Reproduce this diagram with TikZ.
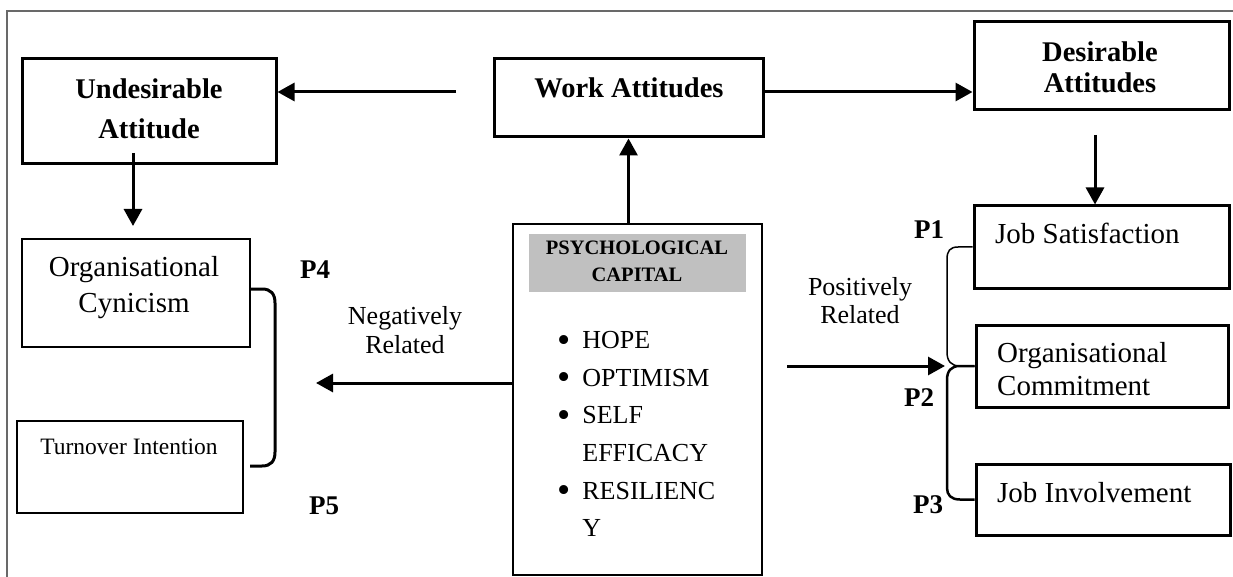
\documentclass[tikz,border=0pt]{standalone}
\usepackage{fontspec}
\usepackage{graphicx}
\setmainfont{Liberation Serif}
\usetikzlibrary{arrows.meta}
\definecolor{capgray}{RGB}{192,192,192}
\definecolor{framegray}{RGB}{105,105,105}

\newcommand{\bigdot}{\raisebox{-3.4pt}{\scalebox{1.45}{\textbullet}}}

\tikzset{
  boxthick/.style={draw, line width=3pt, inner sep=0pt},
  boxthin/.style={draw, line width=2pt, inner sep=0pt},
  flow/.style={line width=3pt, -{Triangle[length=17pt,width=18pt]}},
  bracethick/.style={line width=3pt, line join=round},
  bracethin/.style={line width=1.5pt, line join=round},
  boldtxt/.style={inner sep=0pt, align=center, font=\fontsize{28.5}{40}\selectfont\bfseries},
  plaintxt/.style={inner sep=0pt, font=\fontsize{29}{33}\selectfont},
  reltxt/.style={inner sep=0pt, align=center, font=\fontsize{26}{29}\selectfont},
  ptxt/.style={inner sep=0pt, font=\fontsize{27}{30}\selectfont\bfseries},
  itemtxt/.style={inner sep=0pt, anchor=base west, font=\fontsize{26}{30}\selectfont},
}

\begin{document}
\begin{tikzpicture}[x=1pt,y=-1pt]
\useasboundingbox (0,0) rectangle (1233,577);

% outer frame
\draw[framegray, line width=1.5pt] (7,577) -- (7,11) -- (1233,11);

% boxes
\node[boxthick, minimum width=254pt, minimum height=105pt] (undes) at (149,111.5) {};
\node[boxthick, minimum width=269pt, minimum height=78pt] (work) at (628.5,98) {};
\node[boxthick, minimum width=255pt, minimum height=88pt] (desir) at (1101.5,66) {};
\node[boxthick, minimum width=255pt, minimum height=82pt] (jobsat) at (1101.5,247) {};
\node[boxthick, minimum width=252pt, minimum height=82pt] (orgcom) at (1102,366) {};
\node[boxthick, minimum width=254pt, minimum height=71pt] (jobinv) at (1103,499.5) {};
\node[boxthin, minimum width=228pt, minimum height=108pt] (orgcyn) at (136,293) {};
\node[boxthin, minimum width=226pt, minimum height=92pt] (turn) at (130,467) {};
\node[boxthick, line width=2.5pt, minimum width=249pt, minimum height=351pt] (psycap) at (637.5,399.5) {};
\node[fill=capgray, inner sep=0pt, minimum width=217pt, minimum height=58pt] (header) at (637.5,263) {};

% box texts
\node[boldtxt] (undestxt) at (149,109) {Undesirable\\Attitude};
\node[boldtxt] (worktxt) at (629,88) {Work Attitudes};
\node[boldtxt, font=\fontsize{28.5}{31}\selectfont\bfseries] (desirtxt) at (1100,67.5) {Desirable\\Attitudes};
\node[boldtxt, font=\fontsize{20.5}{27}\selectfont\bfseries] (headertxt) at (637,261.5) {PSYCHOLOGICAL\\CAPITAL};
\node[plaintxt, anchor=west] (jobsattxt) at (995,233) {Job Satisfaction};
\node[plaintxt, anchor=west, align=left] (orgcomtxt) at (997,369.5) {Organisational\\Commitment};
\node[plaintxt, anchor=west] (jobinvtxt) at (997,493) {Job Involvement};
\node[plaintxt, align=center, font=\fontsize{29}{36}\selectfont] (orgcyntxt) at (134,288) {Organisational\\Cynicism};
\node[plaintxt, font=\fontsize{23.5}{28}\selectfont] (turntxt) at (129,447) {Turnover Intention};

% component list
\node[itemtxt] (i1) at (557,348.6) {\bigdot\hspace{12pt}HOPE};
\node[itemtxt] (i2) at (557,386.2) {\bigdot\hspace{12pt}OPTIMISM};
\node[itemtxt] (i3) at (557,423.8) {\bigdot\hspace{12pt}SELF};
\node[itemtxt] (i4) at (557,461.4) {\hphantom{\bigdot}\hspace{12pt}EFFICACY};
\node[itemtxt] (i5) at (557,499.0) {\bigdot\hspace{12pt}RESILIENC};
\node[itemtxt] (i6) at (557,536.6) {\hphantom{\bigdot}\hspace{12pt}Y};

% relation labels
\node[reltxt] (neg) at (405,330.5) {Negatively\\Related};
\node[reltxt, font=\fontsize{26}{28}\selectfont] (pos) at (860,301) {Positively\\Related};
\node[ptxt] (p1) at (929,230) {P1};
\node[ptxt] (p2) at (919,398) {P2};
\node[ptxt] (p3) at (928,505) {P3};
\node[ptxt] (p4) at (315,270) {P4};
\node[ptxt] (p5) at (324,506) {P5};

% free arrow ends
\coordinate (wtail) at (456,92);
\coordinate (dtail) at (1095,135);
\coordinate (utail) at (133,153);
\coordinate (uhead) at (133,226);
\coordinate (ntip) at (316,383);
\coordinate (ptail) at (787,366);
\coordinate (ptip) at (945,366);

% connectors
\draw[flow] (wtail) -- (wtail -| undes.east);
\draw[flow] ([yshift=6pt]work.east) -- ([yshift=6pt]work.east -| desir.west);
\draw[flow] (work.south |- psycap.north) -- (work.south);
\draw[flow] (dtail) -- (dtail |- jobsat.north);
\draw[flow] (utail) -- (uhead);
\draw[flow] (psycap.west |- ntip) -- (ntip);
\draw[flow] (ptail) -- (ptip);

% bracket joining the negative outcomes
\draw[bracethick] ([yshift=4pt]orgcyn.east) -- (262,289)
  .. controls (271,289) and (275,294) .. (275,303) -- (275,452)
  .. controls (275,461) and (271,466) .. (262,466) -- (250,466);

% brace joining the positive outcomes
\draw[bracethin] (jobsat.west) -- (958,247)
  .. controls (950,247) and (947,251) .. (947,259) -- (947,352)
  .. controls (947,361) and (951,366) .. (960,366) -- (orgcom.west);
\draw[line width=2.5pt, line join=round] (orgcom.west) -- (960,366)
  .. controls (951,366) and (947,371) .. (947,380) -- (947,488)
  .. controls (947,495) and (951,499.5) .. (960,499.5) -- (jobinv.west);
\end{tikzpicture}
\end{document}
